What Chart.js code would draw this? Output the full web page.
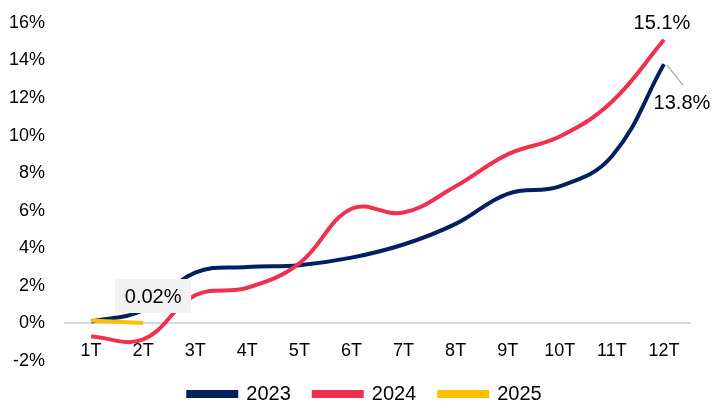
<!DOCTYPE html>
<html><head><meta charset="utf-8">
<script src="https://cdn.jsdelivr.net/npm/chart.js@4"></script>
<style>html,body{margin:0;padding:0;background:#fff}#wrap{width:713px;height:405px}</style>
</head><body><div id="wrap"><canvas id="c" width="713" height="405"></canvas></div>
<script>
const categories = ['1T','2T','3T','4T','5T','6T','7T','8T','9T','10T','11T','12T'];
const s2023 = [0.1, 0.7, 2.7, 3.0, 3.1, 3.5, 4.2, 5.3, 6.9, 7.3, 8.9, 13.8];
const s2024 = [-0.7, -0.85, 1.5, 1.9, 3.2, 6.1, 5.9, 7.3, 9.0, 9.95, 11.8, 15.1];
const s2025 = [0.15, 0.02];
const yTicks = [-2, 0, 2, 4, 6, 8, 10, 12, 14, 16];

const FONT = 'Liberation Sans, Arial, sans-serif';
const fmt = v => (Math.abs(v) < 0.1 && v !== 0 ? v.toFixed(2) : v.toFixed(1)) + '%';

const legendFix = {
  id: 'legendFix',
  beforeLayout(chart) {
    const lg = chart.legend;
    if (lg && !lg._patched) {
      const orig = lg.fit;
      lg.fit = function () { orig.call(this); this.height = 44; };
      lg._patched = true;
    }
  },
  afterLayout(chart) {
    const lg = chart.legend;
    if (lg) { lg.left += 20; lg.right += 20; }
  }
};

const labelPlugin = {
  id: 'labels',
  afterDatasetsDraw(chart) {
    const ctx = chart.ctx;
    const x = chart.scales.x, y = chart.scales.y;
    ctx.save();
    ctx.font = '20px ' + FONT;
    ctx.textAlign = 'center';
    ctx.textBaseline = 'middle';
    ctx.fillStyle = '#000';
    // 2024 last
    const i24 = s2024.length - 1;
    let px = x.getPixelForValue(i24), py = y.getPixelForValue(s2024[i24]);
    ctx.fillText(fmt(s2024[i24]), px - 2, py - 16);
    // 2023 last with leader
    const i23 = s2023.length - 1;
    px = x.getPixelForValue(i23); py = y.getPixelForValue(s2023[i23]);
    ctx.strokeStyle = '#a6a6a6'; ctx.lineWidth = 1.2;
    ctx.beginPath(); ctx.moveTo(px + 3, py + 1); ctx.lineTo(px + 19, py + 21); ctx.stroke();
    ctx.fillText(fmt(s2023[i23]), px + 18, py + 39);
    // 2025 last with box
    const i25 = s2025.length - 1;
    px = x.getPixelForValue(i25); py = y.getPixelForValue(s2025[i25]);
    const cx = px + 10, cy = py - 27;
    ctx.fillStyle = '#f2f2f2';
    ctx.fillRect(cx - 38, cy - 17, 76, 34);
    ctx.fillStyle = '#000';
    ctx.fillText(fmt(s2025[i25]), cx, cy + 1);
    ctx.restore();
  }
};

new Chart(document.getElementById('c'), {
  type: 'line',
  data: {
    labels: categories,
    datasets: [
      {label: '2023', data: s2023, borderColor: '#002060', backgroundColor: '#002060', borderWidth: 4, tension: 0.4, pointRadius: 0, order: 3},
      {label: '2024', data: s2024, borderColor: '#f0304f', backgroundColor: '#f0304f', borderWidth: 4, tension: 0.4, pointRadius: 0, order: 2},
      {label: '2025', data: s2025, borderColor: '#ffc000', backgroundColor: '#ffc000', borderWidth: 4, tension: 0.4, pointRadius: 0, order: 1}
    ]
  },
  options: {
    responsive: false,
    animation: false,
    devicePixelRatio: 1,
    layout: {padding: {left: 0, right: 23, top: 13, bottom: 0}},
    plugins: {
      tooltip: {enabled: false},
      legend: {
        position: 'bottom',
        labels: {
          font: {family: FONT, size: 20},
          color: '#000',
          boxWidth: 48, boxHeight: 4,
          padding: 23,
          sort: (a, b) => a.datasetIndex - b.datasetIndex
        }
      }
    },
    scales: {
      x: {
        offset: true,
        position: {y: 0},
        grid: {display: false},
        border: {display: true, color: '#d9d9d9', width: 2},
        ticks: {font: {family: FONT, size: 18}, color: '#000', padding: 9, maxRotation: 0}
      },
      y: {
        min: -2, max: 16,
        afterBuildTicks: s => { s.ticks = yTicks.map(v => ({value: v})); },
        afterFit: s => { s.width = 65; },
        grid: {display: false},
        border: {display: false},
        ticks: {font: {family: FONT, size: 18}, color: '#000', padding: 12, callback: v => v + '%'}
      }
    }
  },
  plugins: [legendFix, labelPlugin]
});
</script>
</body></html>
